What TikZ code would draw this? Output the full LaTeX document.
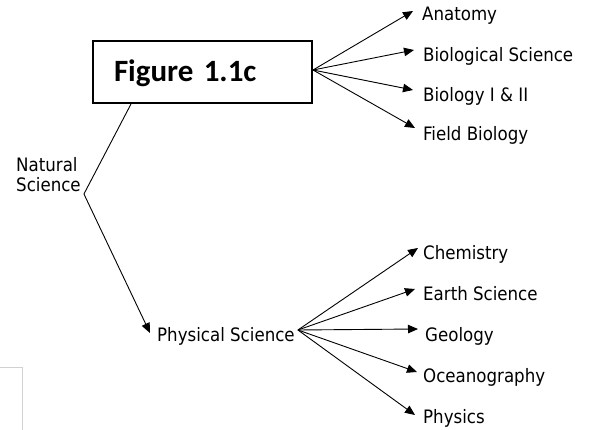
\documentclass[tikz,border=0pt]{standalone}
\usepackage{fontspec}
\usetikzlibrary{arrows.meta}
\newfontfamily\lblfont{DejaVu Sans Condensed}
\newfontfamily\figfont{Carlito}
\tikzset{
  lbl/.style={font=\lblfont\fontsize{18.5}{20}\selectfont, inner sep=0pt, anchor=base west},
  figbox/.style={draw, line width=2pt, minimum width=219pt, minimum height=62pt,
     font=\figfont\bfseries\fontsize{31}{32}\selectfont, text height=22pt, text depth=2pt,
     text width=177pt, align=left, inner xsep=21pt},
  conn/.style={line width=0.9pt},
  arr/.style={line width=0.9pt, -{Triangle[length=10pt,width=8.5pt]}}
}
\begin{document}
\begin{tikzpicture}[x=1pt,y=-1pt]
\useasboundingbox (0,0) rectangle (592,430);
% faint box fragment
\draw[black!18, line width=1pt] (0,368) -- (22,368) -- (22,430);
% nodes
\node[figbox] (fig) at (202.5,72) {Figure 1.1c};
\node[lbl, align=left, font=\lblfont\fontsize{18.5}{20}\selectfont] (nat) at (16,192) {Natural\\Science};
\node[lbl] (phys) at (157,342) {Physical Science};
\node[lbl] (anat) at (422,21) {Anatomy};
\node[lbl] (biosci) at (423,62) {Biological Science};
\node[lbl] (bio12) at (423,102) {Biology I \& II};
\node[lbl] (field) at (423,141) {Field Biology};
\node[lbl] (chem) at (423,260) {Chemistry};
\node[lbl] (earth) at (423,301) {Earth Science};
\node[lbl] (geo) at (425,342) {Geology};
\node[lbl] (ocean) at (423,383) {Oceanography};
\node[lbl] (physics) at (423,423) {Physics};
% connectors
\coordinate (natout) at ([xshift=3pt,yshift=-2pt]nat.base east);
\draw[conn] (natout) -- ([xshift=39pt]fig.south west);
\draw[arr] (natout) -- ([shift={(-7pt,9pt)}]phys.base west);
\coordinate (bfan) at ([yshift=2pt]fig.east);
\draw[arr] (bfan) -- ([shift={(-9pt,10pt)}]anat.base west);
\draw[arr] (bfan) -- ([shift={(-9pt,12pt)}]biosci.base west);
\draw[arr] (bfan) -- ([shift={(-10pt,12pt)}]bio12.base west);
\draw[arr] (bfan) -- ([shift={(-8pt,13pt)}]field.base west);
\coordinate (pfan) at ([shift={(3pt,12pt)}]phys.base east);
\draw[arr] (pfan) -- ([shift={(-5pt,12pt)}]chem.base west);
\draw[arr] (pfan) -- ([shift={(-8pt,12pt)}]earth.base west);
\draw[arr] (pfan) -- ([shift={(-7pt,13pt)}]geo.base west);
\draw[arr] (pfan) -- ([shift={(-6pt,11pt)}]ocean.base west);
\draw[arr] (pfan) -- ([shift={(-8pt,8pt)}]physics.base west);
\end{tikzpicture}
\end{document}
